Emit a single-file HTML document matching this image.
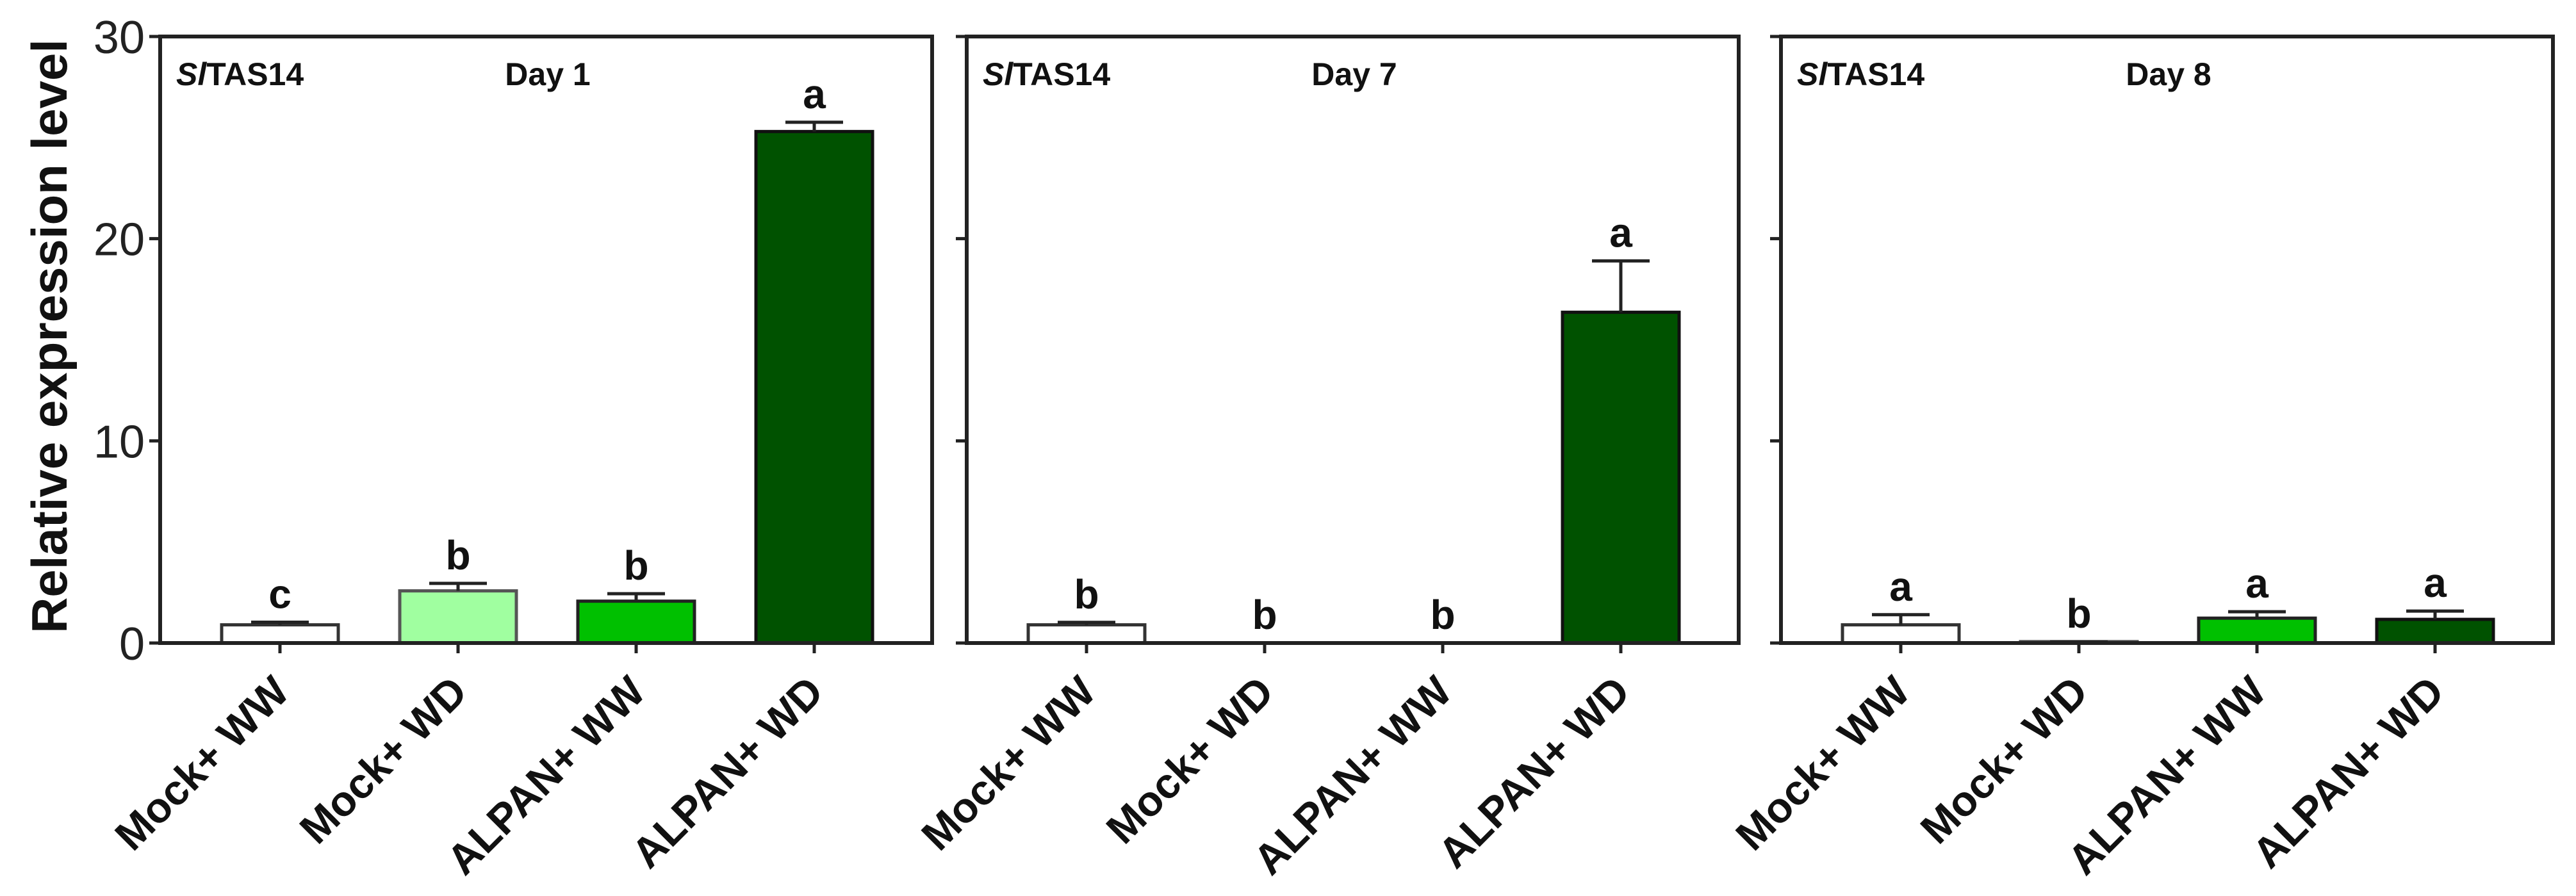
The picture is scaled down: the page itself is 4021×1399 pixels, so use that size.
<!DOCTYPE html>
<html><head><meta charset="utf-8"><style>
html,body{margin:0;padding:0;background:#fff;}
svg{display:block;font-family:"Liberation Sans",Arial,sans-serif;}
</style></head><body>
<svg id="chart" width="4021" height="1399" viewBox="0 0 4021 1399" xmlns="http://www.w3.org/2000/svg">
<text transform="translate(104,525) rotate(-90)" text-anchor="middle" font-size="78" font-weight="bold" fill="#111">Relative expression level</text>
</svg>
<script>
const categories = ["Mock+ WW", "Mock+ WD", "ALPAN+ WW", "ALPAN+ WD"];
const panelTitles = ["Day 1", "Day 7", "Day 8"];
const day1Values = [0.9, 2.58, 2.07, 25.3];
const day1Errors = [0.13, 0.37, 0.37, 0.46];
const day1Letters = ["c", "b", "b", "a"];
const day7Values = [0.9, 0, 0, 16.36];
const day7Errors = [0.12, 0, 0, 2.54];
const day7Letters = ["b", "b", "b", "a"];
const day8Values = [0.9, 0.07, 1.23, 1.17];
const day8Errors = [0.5, 0, 0.32, 0.41];
const day8Letters = ["a", "b", "a", "a"];
const yTicks = [0, 10, 20, 30];
const fills = ["#ffffff", "#a0ffa0", "#00c000", "#005200"];
const strokes = ["#333", "#555", "#222", "#111"];

const svg = document.getElementById('chart');
const NS = "http://www.w3.org/2000/svg";
const panelLefts = [250, 1509, 2780];
const panelW = 1205, plotTop = 57, plotBottom = 1004, yMax = 30;
function yScale(v){ return plotBottom - v / yMax * (plotBottom - plotTop); }
function xScale(p, i){ return panelLefts[p] + 187 + i * 278; }
function mk(tag, attrs, parent){
  const e = document.createElementNS(NS, tag);
  for (const k in attrs) e.setAttribute(k, attrs[k]);
  (parent || svg).appendChild(e);
  return e;
}
const series = [
  [day1Values, day1Errors, day1Letters],
  [day7Values, day7Errors, day7Letters],
  [day8Values, day8Errors, day8Letters]
];
series.forEach((s, p) => {
  const L = panelLefts[p];
  const g = mk('g', {});
  
  
  s[0].forEach((v, i) => {
    const cx = xScale(p, i), bw = 182;
    if (v > 0.03) {
      const r = mk('rect', {x: cx - bw/2, y: yScale(v), width: bw, height: plotBottom - yScale(v), fill: fills[i], stroke: strokes[i], 'stroke-width': 5}, g);
      
      
    }
    const e = s[1][i];
    if (e > 0) {
      const eb = mk('path', {d: `M${cx},${yScale(v)} V${yScale(v+e)} M${cx-45},${yScale(v+e)} H${cx+45}`, stroke: '#222', 'stroke-width': 5, fill: 'none'}, g);
      
      
    } else if (v > 0.03) {
      mk('path', {d: `M${cx-45},${yScale(v)} H${cx+45}`, stroke: '#222', 'stroke-width': 4}, g);
    }
    const lt = mk('text', {x: cx, y: yScale(v + e) - 22, 'text-anchor': 'middle', 'font-size': 64, 'font-weight': 'bold', fill: '#111'}, g);
    lt.textContent = s[2][i];
    
    
    mk('line', {x1: cx, y1: plotBottom, x2: cx, y2: plotBottom + 16, stroke: '#222', 'stroke-width': 5}, g);
    const xl = mk('text', {transform: `translate(${cx + 18},${plotBottom + 80}) rotate(-45)`, 'text-anchor': 'end', 'font-size': 66, 'font-weight': 'bold', fill: '#111'}, g);
    xl.textContent = categories[i];
    
    
  });
  const fr = mk('rect', {x: L, y: plotTop, width: panelW, height: plotBottom - plotTop, fill: 'none', stroke: '#222', 'stroke-width': 6}, g);
  
  
  yTicks.forEach(t => {
    mk('line', {x1: L - 17, y1: yScale(t), x2: L, y2: yScale(t), stroke: '#222', 'stroke-width': 5}, g);
    if (p === 0) {
      const tl = mk('text', {x: L - 24, y: yScale(t) + 26, 'text-anchor': 'end', 'font-size': 72, fill: '#222'}, g);
      tl.textContent = t;
      
      
    }
  });
  const gn = mk('text', {x: L + 25, y: plotTop + 76, 'font-size': 50, 'font-weight': 'bold', fill: '#111'}, g);
  gn.innerHTML = '<tspan font-style="italic">Sl</tspan>TAS14';
  
  
  const dt = mk('text', {x: L + 605, y: plotTop + 76, 'text-anchor': 'middle', 'font-size': 50, 'font-weight': 'bold', fill: '#111'}, g);
  dt.textContent = panelTitles[p];
  
  
});
</script>
</body></html>
